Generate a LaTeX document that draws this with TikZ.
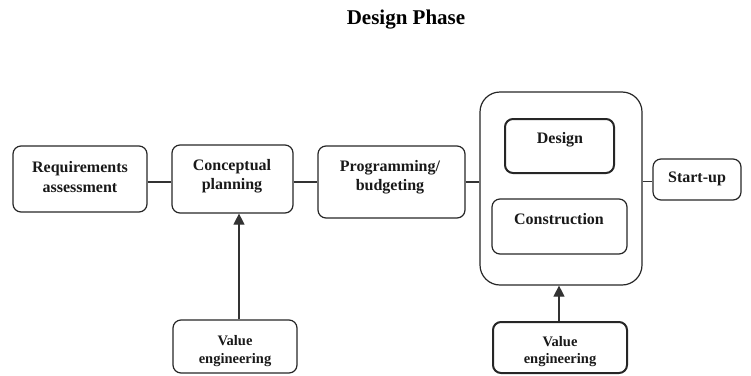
\documentclass[tikz,border=0pt]{standalone}
\usepackage{fontspec}
\setmainfont{Liberation Serif}
\usetikzlibrary{arrows.meta}
\begin{document}
\begin{tikzpicture}[x=1pt,y=-1pt,
  box/.style={draw=black!85,line width=1.2pt,rounded corners=8pt,inner sep=0pt},
  heavybox/.style={box,line width=2pt},
  lbl/.style={align=center,font=\fontsize{16}{19.5}\selectfont\bfseries,text=black!90},
  smalllbl/.style={align=center,font=\fontsize{14.5}{17.5}\selectfont\bfseries,text=black!90},
  link/.style={draw=black!80,line width=1.2pt},
  push/.style={link,-{Triangle[length=11pt,width=11pt]}}]
\useasboundingbox (0,0) rectangle (751,375);

\node[font=\fontsize{21}{24}\selectfont\bfseries] (title) at (406,20) {Design Phase};

% process chain
\node[box,minimum width=134pt,minimum height=66pt] (req) at (80,179) {};
\node[lbl] (reqt) at (80,177) {Requirements\\assessment};
\node[box,minimum width=121pt,minimum height=68pt] (cp) at (232.5,179) {};
\node[lbl] (cpt) at (232,176) {Conceptual\\planning};
\node[box,minimum width=147pt,minimum height=72pt] (prog) at (391.5,182) {};
\node[lbl] (progt) at (390,177) {Programming/\\budgeting};

% design / construction group
\node[box,rounded corners=20pt,minimum width=162pt,minimum height=193pt] (big) at (561,188.5) {};
\node[heavybox,minimum width=109pt,minimum height=54pt] (des) at (559.5,146) {};
\node[lbl] (dest) at (560,140) {Design};
\node[box,minimum width=135pt,minimum height=55pt] (con) at (559.5,226.5) {};
\node[lbl] (cont) at (559,219) {Construction};

\node[box,minimum width=88pt,minimum height=41pt] (start) at (697,179.5) {};
\node[lbl] (startt) at (697,179) {Start-up};

% value engineering inputs
\node[box,minimum width=124pt,minimum height=53pt] (ve1) at (235,346.5) {};
\node[smalllbl] (ve1t) at (235,351) {Value\\engineering};
\node[heavybox,minimum width=134pt,minimum height=51pt] (ve2) at (560,347.5) {};
\node[smalllbl] (ve2t) at (560,351.5) {Value\\engineering};

% connectors
\draw[link] ([yshift=-3pt]req.east) -- ([yshift=-3pt]cp.west);
\draw[link] ([yshift=-3pt]cp.east) -- ([yshift=-3pt]cp.east -| prog.west);
\draw[link] (prog.east) -- (prog.east -| big.west);
\draw[link] ([yshift=-2pt]start.west -| big.east) -- ([yshift=-2pt]start.west);
\draw[push] ([xshift=4pt]ve1.north) -- ([xshift=4pt]ve1.north |- cp.south);
\draw[push] ([xshift=-1pt]ve2.north) -- ([xshift=-1pt]ve2.north |- big.south);
\end{tikzpicture}
\end{document}
